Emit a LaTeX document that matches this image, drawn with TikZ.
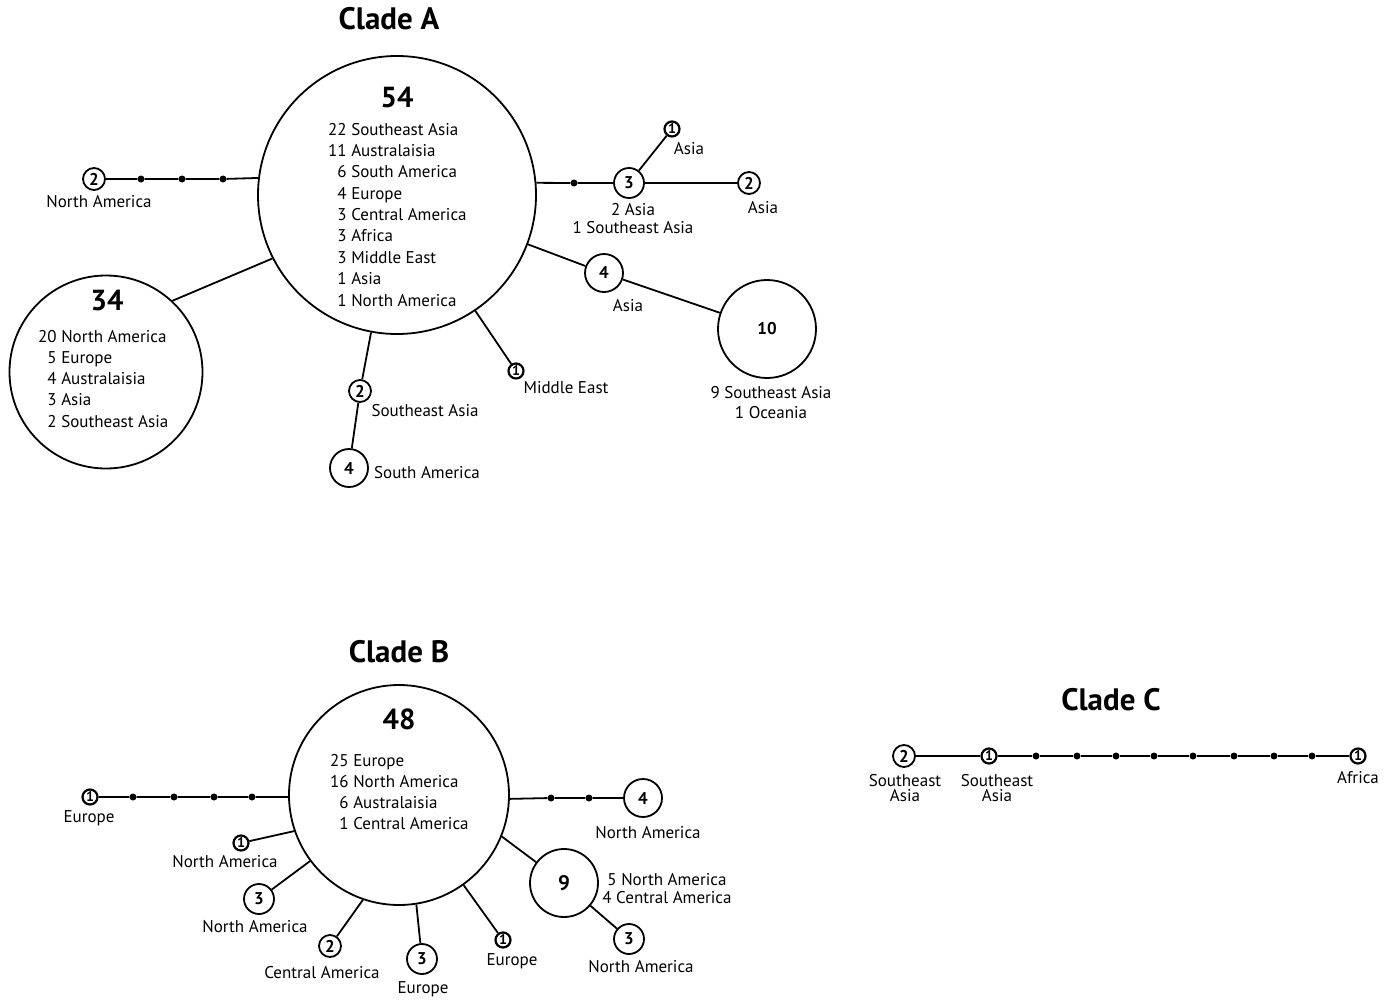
\documentclass[tikz,border=0pt]{standalone}
\usepackage{fontspec}
\setmainfont{PT Sans}

\begin{document}
\begin{tikzpicture}[
  x=1pt,y=-1pt,
  every node/.style={inner sep=0pt},
  hap/.style={circle,draw,line width=1.8pt,minimum size=#1,font=\bfseries\fontsize{17}{17}\selectfont},
  hapone/.style={circle,draw,line width=2.2pt,minimum size=15pt,font=\bfseries\fontsize{14}{14}\selectfont},
  bighap/.style={circle,draw,line width=1.8pt,minimum size=#1},
  snp/.style={circle,fill,minimum size=7pt},
  lbl/.style={anchor=base,font=\fontsize{17}{18}\selectfont},
  lbltwo/.style={align=center,font=\fontsize{17}{18}\selectfont},
  lst/.style={anchor=base west,font=\fontsize{17}{18}\selectfont},
  bignum/.style={anchor=base,font=\bfseries\fontsize{29}{29}\selectfont},
  clade/.style={anchor=base,font=\bfseries\fontsize{31}{31}\selectfont},
  link/.style={line width=1.8pt}
]
\useasboundingbox (0,0) rectangle (1395,999);

% Clade A
\node[clade] (cladeA) at (389,29) {Clade A};
\node[bighap=278pt] (a54) at (397,195) {};
\node[bignum] (a54n) at (397,107) {54};
\foreach \entry [count=\i] in {22 Southeast Asia,11 Australaisia,\hphantom{2}6 South America,
    \hphantom{2}4 Europe,\hphantom{2}3 Central America,\hphantom{2}3 Africa,
    \hphantom{2}3 Middle East,\hphantom{2}1 Asia,\hphantom{2}1 North America}
  \node[lst] (a54l\i) at (328,{135+21.375*(\i-1)}) {\entry};

\node[bighap=193pt] (a34) at (106,372) {};
\node[bignum] (a34n) at (107,310) {34};
\foreach \entry [count=\i] in {20 North America,\hphantom{2}5 Europe,\hphantom{2}4 Australaisia,
    \hphantom{2}3 Asia,\hphantom{2}2 Southeast Asia}
  \node[lst] (a34l\i) at (38,{342+21.25*(\i-1)}) {\entry};

\node[hap=22pt] (an2) at (94,179) {2};
\node[lbl] (an2l) at (99,207) {North America};
\node[snp] (ad1) at (141,179) {};
\node[snp] (ad2) at (182,179) {};
\node[snp] (ad3) at (223,179) {};

\node[snp] (ad4) at (574,183) {};
\node[hap=30pt] (an3) at (629,183) {3};
\node[lbltwo] (an3l) at (633,219) {2 Asia\\1 Southeast Asia};
\node[hap=22pt] (an2b) at (749,183) {2};
\node[lbl] (an2bl) at (763,213) {Asia};
\node[hapone] (an1) at (672,129) {1};
\node[lbl] (an1l) at (689,154) {Asia};

\node[hap=38pt] (an4) at (604,273) {4};
\node[lbl] (an4l) at (628,311) {Asia};
\node[hap=98pt] (a10) at (767,329) {10};
\node[lbltwo] (a10l) at (771,403) {9 Southeast Asia\\[2pt]1 Oceania};

\node[hapone] (am1) at (516,371) {1};
\node[lbl] (am1l) at (566,393) {Middle East};
\node[hap=22pt] (as2) at (360,391) {2};
\node[lbl] (as2l) at (425,416) {Southeast Asia};
\node[hap=38pt] (as4) at (349,468) {4};
\node[lbl] (as4l) at (427,478) {South America};

\draw[link] (an2) -- (ad1) -- (ad2) -- (ad3) -- (a54.173);
\draw[link] (a54.5) -- (ad4) -- (an3) -- (an2b);
\draw[link] (an3) -- (an1);
\draw[link] (a54) -- (an4) -- (a10);
\draw[link] (a54) -- (am1);
\draw[link] (a54) -- (as2) -- (as4);
\draw[link] (a34.47) -- (a54.207);

% Clade B
\node[clade] (cladeB) at (399,662) {Clade B};
\node[bighap=220pt] (b48) at (399,795) {};
\node[bignum] (b48n) at (399,729) {48};
\foreach \entry [count=\i] in {25 Europe,16 North America,\hphantom{1}6 Australaisia,\hphantom{1}1 Central America}
  \node[lst] (b48l\i) at (330,{766+21*(\i-1)}) {\entry};

\node[hapone] (bn1) at (90,797) {1};
\node[lbl] (bn1l) at (89,822) {Europe};
\node[snp] (bd1) at (133,797) {};
\node[snp] (bd2) at (174,797) {};
\node[snp] (bd3) at (214,797) {};
\node[snp] (bd4) at (252,797) {};

\node[hapone] (bna1) at (241,843) {1};
\node[lbl] (bna1l) at (225,867) {North America};
\node[hap=30pt] (bnb3) at (259,899) {3};
\node[lbl] (bnb3l) at (255,932) {North America};
\node[hap=22pt] (bc2) at (330,946) {2};
\node[lbl] (bc2l) at (322,978) {Central America};
\node[hap=30pt] (be3) at (422,959) {3};
\node[lbl] (be3l) at (423,993) {Europe};
\node[hapone] (beu1) at (503,940) {1};
\node[lbl] (beu1l) at (512,965) {Europe};

\node[snp] (bd5) at (551,798) {};
\node[snp] (bd6) at (589,798) {};
\node[hap=38pt] (bn4) at (643,798) {4};
\node[lbl] (bn4l) at (648,838) {North America};
\node[hap=68pt,font=\bfseries\fontsize{21}{21}\selectfont] (b9) at (564,883) {9};
\node[lbltwo] (b9l) at (667,889) {5 North America\\4 Central America};
\node[hap=30pt] (bnb3b) at (629,939) {3};
\node[lbl] (bnb3bl) at (641,972) {North America};

\draw[link] (bn1) -- (bd1) -- (bd2) -- (bd3) -- (bd4) -- (b48.181);
\draw[link] (b48.199) -- (bna1);
\draw[link] (b48) -- (bnb3);
\draw[link] (b48.251) -- (bc2);
\draw[link] (b48.279) -- (be3);
\draw[link] (b48) -- (beu1);
\draw[link] (b48.358) -- (bd5) -- (bd6) -- (bn4);
\draw[link] (b48.338) -- (b9) -- (bnb3b);

% Clade C
\node[clade] (cladeC) at (1111,710) {Clade C};
\node[hap=22pt] (cn2) at (904,756) {2};
\node[lbltwo] (cn2l) at (905,788) {Southeast\\[-3pt]Asia};
\node[hapone] (cn1) at (989,756) {1};
\node[lbltwo] (cn1l) at (997,788) {Southeast\\[-3pt]Asia};
\foreach \x [count=\i] in {1036,1077,1116,1154,1193,1234,1274,1312}
  \node[snp] (cd\i) at (\x,756) {};
\node[hapone] (cn1b) at (1358,756) {1};
\node[lbl] (cn1bl) at (1358,783) {Africa};

\draw[link] (cn2) -- (cn1) -- (cd1) -- (cd2) -- (cd3) -- (cd4) -- (cd5) -- (cd6) -- (cd7) -- (cd8) -- (cn1b);
\end{tikzpicture}
\end{document}
